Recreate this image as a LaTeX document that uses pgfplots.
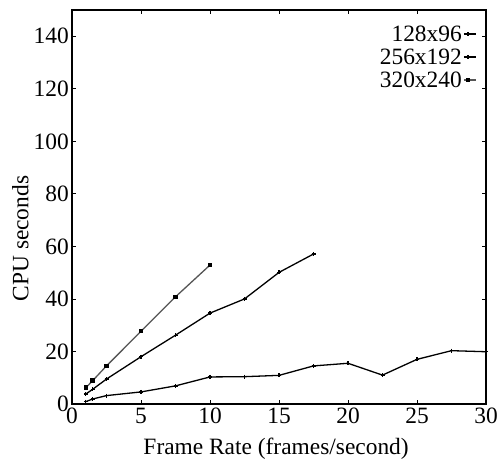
\documentclass[border=0pt]{standalone}
\usepackage{fontspec}
\setmainfont{Liberation Serif}
\usepackage{pgfplots}
\pgfplotsset{compat=1.18}
\definecolor{darkline}{HTML}{555555}
\begin{document}
\begin{tikzpicture}
\begin{axis}[
  scale only axis,
  width=414bp, height=394bp,
  xmin=0, xmax=30, ymin=0, ymax=150,
  xtick={0,5,...,30}, ytick={0,20,...,140},
  font=\fontsize{23.5}{26}\selectfont,
  /pgf/number format/assume math mode=true,
  xlabel={Frame Rate (frames/second)},
  ylabel={CPU seconds},
  xlabel style={at={(axis description cs:0.493,-0.114)}, anchor=center},
  ylabel style={at={(axis description cs:-0.125,0.42)}, anchor=center},
  xticklabel style={inner sep=1bp, yshift=-3bp},
  yticklabel style={inner sep=1bp, xshift=-2bp},
  axis line style={line width=1.1bp},
  major tick length=4bp,
  tick style={black, line width=0.8bp},
  legend style={draw=none, fill=none, at={(0.985,0.97)}, anchor=north east,
    font=\fontsize{23.5}{26}\selectfont, row sep=3bp,
    nodes={inner sep=1.5bp}},
  legend cell align=right,
  legend plot pos=right,
  legend image code/.code={
    \draw[#1, mark repeat=2, mark phase=2] plot coordinates {(0bp,0bp) (4bp,0bp) (12bp,0bp)};
  },
]
\addplot[black, line width=1.3bp, mark=+, mark size=2bp] coordinates {
  (1,0.9) (1.5,1.9) (2.5,3.2) (5,4.6) (7.5,6.9) (10,10.3) (12.5,10.4) (15,10.9)
  (17.5,14.5) (20,15.5) (22.5,11.0) (25,17.0) (27.5,20.3) (30,19.9)
};
\addlegendentry{128x96}
\addplot[black, line width=1.3bp, mark=+, mark size=2bp] coordinates {
  (1,3.8) (1.5,5.6) (2.5,9.5) (5,18.0) (7.5,26.2) (10,34.6) (12.5,40.0) (15,50.1) (17.5,57.1)
};
\addlegendentry{256x192}
\addplot[darkline, line width=1.3bp, mark=square*, mark size=1.6bp, mark options={fill=black, draw=black}] coordinates {
  (1,6.2) (1.5,8.9) (2.5,14.5) (5,27.7) (7.5,40.8) (10,52.9)
};
\addlegendentry{320x240}
\end{axis}
\pgfresetboundingbox
\path ([shift={(-72bp,-58bp)}]current axis.south west) rectangle ([shift={(14bp,10bp)}]current axis.north east);
\end{tikzpicture}
\end{document}
